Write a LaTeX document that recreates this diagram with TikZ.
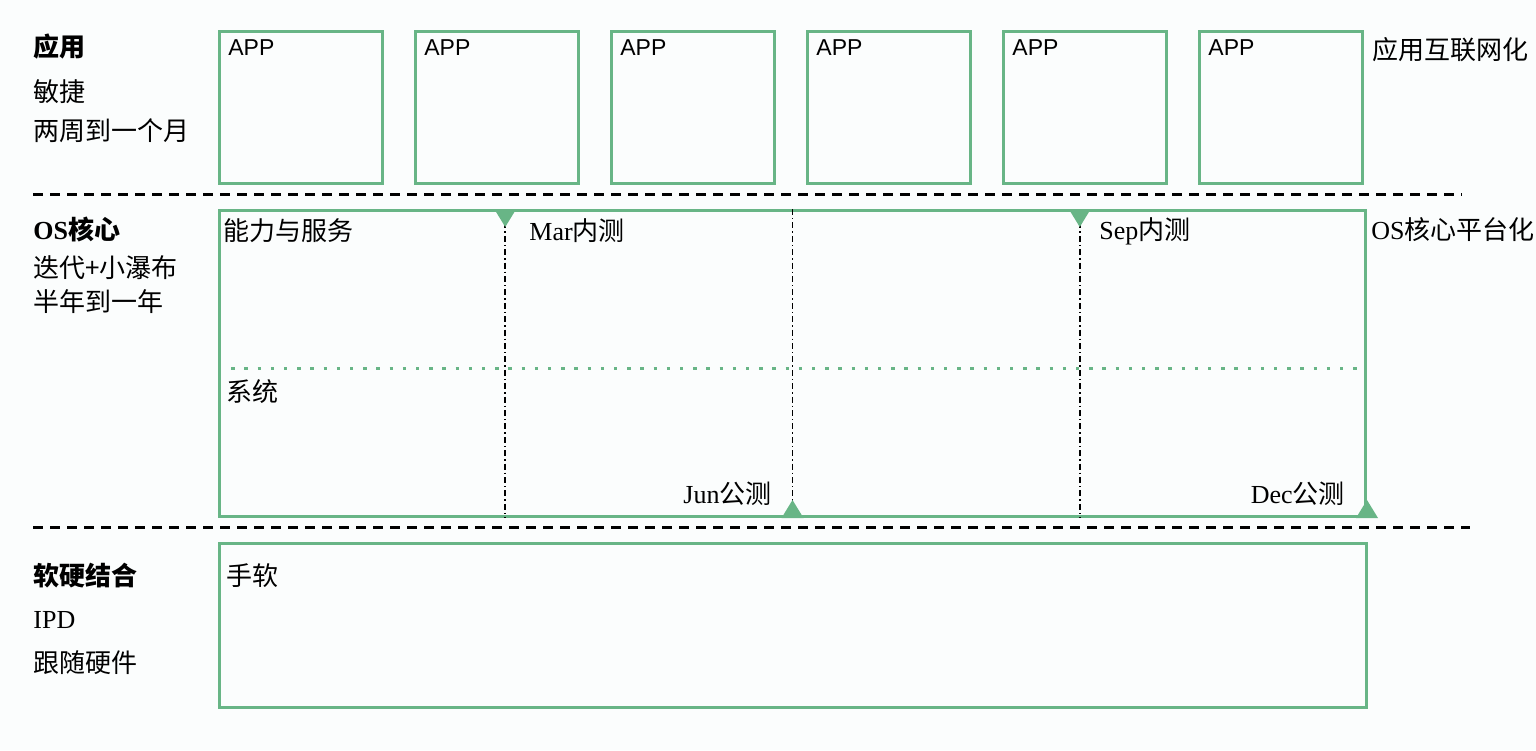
\documentclass[tikz,border=0pt]{standalone}
\usepackage{fontspec}
\setmainfont{Liberation Serif}
\setsansfont{Liberation Sans}
\newfontfamily\cjk{Noto Sans CJK SC}
\usetikzlibrary{calc}
\definecolor{grn}{HTML}{68B586}
\definecolor{bgc}{HTML}{FBFDFD}
\tikzset{
	box/.style={draw=grn, line width=1.5pt, anchor=north west, inner sep=0pt},
	txt/.style={anchor=west, inner sep=0pt, font=\fontsize{13}{15}\selectfont\cjk},
	hd/.style={txt, font=\fontsize{13}{15}\selectfont\cjk\bfseries},
	apptxt/.style={anchor=west, inner sep=0pt, font=\fontsize{11.5}{14}\selectfont\sffamily},
	sepline/.style={line width=1.5pt, dash pattern=on 5pt off 3.5pt},
	quarter/.style={line width=0.8pt, dash pattern=on 3pt off 1.5pt on 0.7pt off 1.5pt},
	dots/.style={draw=grn, line width=1.7pt, dash pattern=on 1.7pt off 4.9pt},
	tri/.style={fill=grn}
}
\begin{document}
\begin{tikzpicture}[x=0.5pt,y=-0.5pt]%
	\fill[bgc] (0,0) rectangle (1536,750);
	% rows on the left
	\node[hd] (tapp) at (33,47) {应用};
	\node[txt] (tagile) at (33,92) {敏捷};
	\node[txt] (tweeks) at (33,131) {两周到一个月};
	\node[hd] (tos) at (33,229) {{\rmfamily OS}核心};
	\node[txt] (titer) at (33,268) {迭代+小瀑布};
	\node[txt] (thalf) at (33,302) {半年到一年};
	\node[hd] (tsh) at (33,576) {软硬结合};
	\node[txt] (tipd) at (33,620) {\rmfamily IPD};
	\node[txt] (thw) at (33,663) {跟随硬件};
	% app boxes
	\foreach \i in {0,...,5} {
		\node[box, minimum width=81.5pt, minimum height=76pt] (app\i) at ({218+196*\i},30) {};
		\node[apptxt] (lapp\i) at ({228+196*\i},48) {APP};
	}
	\node[txt] (tnet) at (1372,50) {应用互联网化};
	\coordinate (s1a) at (33,194);
	\coordinate (s1b) at (1462,194);
	\draw[sepline] (s1a) -- (s1b);
	% OS core
	\node[box, minimum width=573pt, minimum height=153pt] (core) at (218,209) {};
	\coordinate (dl) at ($(core.north west)!0.516!(core.south west)$);
	\coordinate (dr) at ($(core.north east)!0.516!(core.south east)$);
	\draw[dots] (dl) -- (dr);
	\foreach \f/\n in {0.25/q1,0.5/q2,0.75/q3} {
		\coordinate (\n t) at ($(core.north west)!\f!(core.north east)$);
		\coordinate (\n b) at ($(core.south west)!\f!(core.south east)$);
		\draw[quarter] (\n t) -- (\n b);
	}
	\fill[tri] (q1t) ++(-5.5pt,0) -- ++(11pt,0) -- ++(-5.5pt,-9pt) -- cycle;
	\fill[tri] (q3t) ++(-5.5pt,0) -- ++(11pt,0) -- ++(-5.5pt,-9pt) -- cycle;
	\fill[tri] (q2b) ++(-5.5pt,0) -- ++(11pt,0) -- ++(-5.5pt,9pt) -- cycle;
	\fill[tri] (core.south east) ++(-5.5pt,0) -- ++(11pt,0) -- ++(-5.5pt,9pt) -- cycle;
	\node[txt] (tsvc) at (223,231) {能力与服务};
	\node[txt] (tmar) at (529,231) {{\rmfamily Mar}内测};
	\node[txt] (tsep) at (1099,231) {{\rmfamily Sep}内测};
	\node[txt] (tsys) at (226,392) {系统};
	\node[txt, anchor=east] (tjun) at (772,494) {{\rmfamily Jun}公测};
	\node[txt, anchor=east] (tdec) at (1345,494) {{\rmfamily Dec}公测};
	\node[txt] (tplat) at (1371,230) {{\rmfamily OS}核心平台化};
	\coordinate (s2a) at (33,527);
	\coordinate (s2b) at (1470,527);
	\draw[sepline] (s2a) -- (s2b);
	% hardware
	\node[box, minimum width=573.5pt, minimum height=82pt] (hw) at (218,542) {};
	\node[txt] (thand) at (226,576) {手软};
\end{tikzpicture}
\end{document}
